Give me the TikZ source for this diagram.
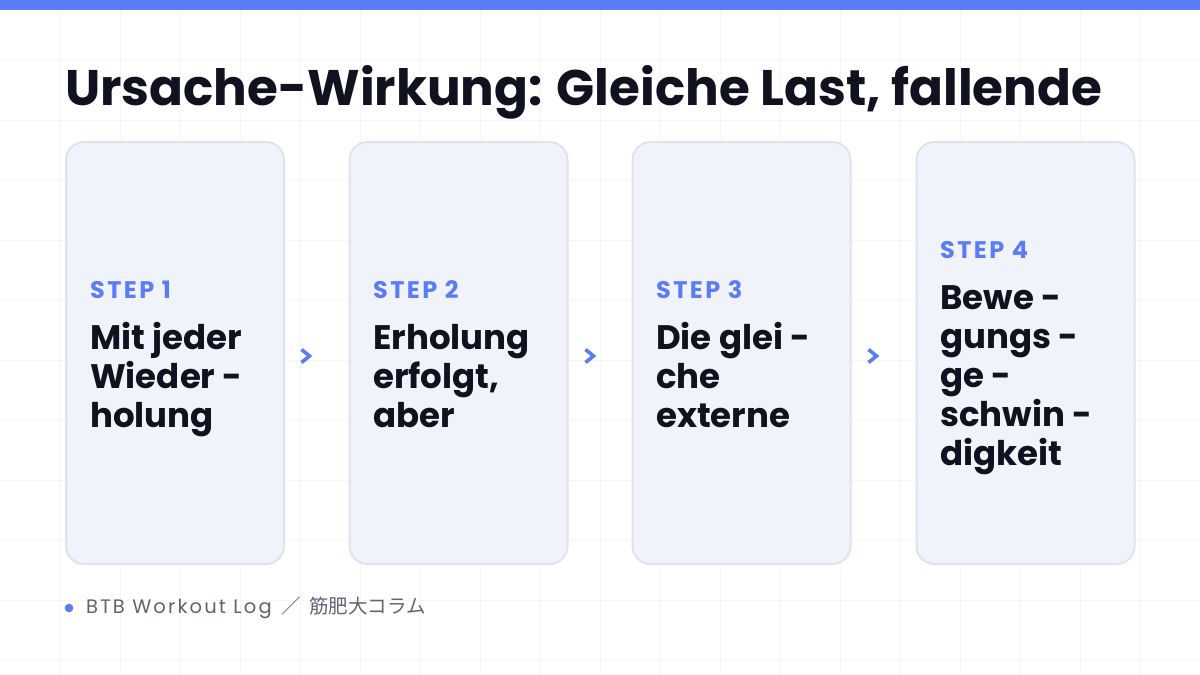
\documentclass[tikz,border=0pt]{standalone}
\usepackage{fontspec}
\setmainfont{Poppins}
\newfontfamily\cjk{Noto Sans CJK JP}
\usetikzlibrary{calc}
\definecolor{accent}{HTML}{5B7CF5}
\definecolor{ink}{HTML}{10131F}
\definecolor{cardfill}{HTML}{F1F3FA}
\definecolor{cardline}{HTML}{DFE3EE}
\definecolor{gridc}{HTML}{F4F5F8}
\definecolor{foot}{HTML}{5F6472}
\tikzset{
  gridline/.style={draw=gridc, line width=1pt},
  card/.style={draw=cardline, fill=cardfill, line width=2pt, rounded corners=18pt,
    minimum width=218pt, minimum height=422pt, inner sep=0pt},
  steplabel/.style={anchor=base west, inner sep=0pt, text=accent,
    font=\fontsize{24}{24}\selectfont\bfseries\addfontfeatures{LetterSpace=10}},
  bodyline/.style={anchor=base west, inner sep=0pt, text=ink, font=\fontsize{34}{34}\selectfont\bfseries},
  chev/.style={draw=accent, line width=3.6pt, line join=miter, line cap=butt},
}
\begin{document}
\begin{tikzpicture}[x=1pt,y=-1pt]
\useasboundingbox (0,0) rectangle (1200,675);
\fill[white] (0,0) rectangle (1200,675);
\foreach \gx in {60,120,...,1140} \draw[gridline] (\gx,10) -- (\gx,675);
\foreach \gy in {60,120,...,660} \draw[gridline] (0,\gy) -- (1200,\gy);
\fill[accent] (0,0) rectangle (1200,10);
\node[anchor=base west, inner sep=0pt, text=ink, font=\fontsize{50}{50}\selectfont\bfseries] (title) at (65,105) {Ursache-Wirkung: Gleiche Last, fallende};
% cards
\node[card] (c1) at (175,353) {};
\node[card] (c2) at (458.5,353) {};
\node[card] (c3) at (741.5,353) {};
\node[card] (c4) at (1025.5,353) {};
% card 1
\node[steplabel] (s1) at (90,298) {STEP 1};
\node[bodyline] (t1a) at (90,349) {Mit jeder};
\node[bodyline] (t1b) at (90,388) {Wieder -};
\node[bodyline] (t1c) at (90,427) {holung};
% card 2
\node[steplabel] (s2) at (373,298) {STEP 2};
\node[bodyline] (t2a) at (373,349) {Erholung};
\node[bodyline] (t2b) at (373,388) {erfolgt,};
\node[bodyline] (t2c) at (373,427) {aber};
% card 3
\node[steplabel] (s3) at (656,298) {STEP 3};
\node[bodyline] (t3a) at (656,349) {Die glei -};
\node[bodyline] (t3b) at (656,388) {che};
\node[bodyline] (t3c) at (656,427) {externe};
% card 4
\node[steplabel] (s4) at (940,258) {STEP 4};
\node[bodyline] (t4a) at (940,309) {Bewe -};
\node[bodyline] (t4b) at (940,348) {gungs -};
\node[bodyline] (t4c) at (940,387) {ge -};
\node[bodyline] (t4d) at (940,426) {schwin -};
\node[bodyline] (t4e) at (940,465) {digkeit};
% chevrons
\coordinate (a1) at (306,356);
\coordinate (a2) at (590,356);
\coordinate (a3) at (873,356);
\foreach \a in {a1,a2,a3}
  \draw[chev] ($(\a)+(-4.5,-6.5)$) -- ($(\a)+(3.5,0)$) -- ($(\a)+(-4.5,6.5)$);
% footer
\fill[accent] (69,608) circle (4.3pt);
\node[anchor=west, inner sep=0pt, text=foot, font=\fontsize{19.5}{19.5}\selectfont] (footer) at (86,608)
  {{\addfontfeatures{LetterSpace=11}BTB Workout Log}\hspace{10pt}{\cjk ／\hspace{8pt}筋肥大コラム}};
\end{tikzpicture}
\end{document}
